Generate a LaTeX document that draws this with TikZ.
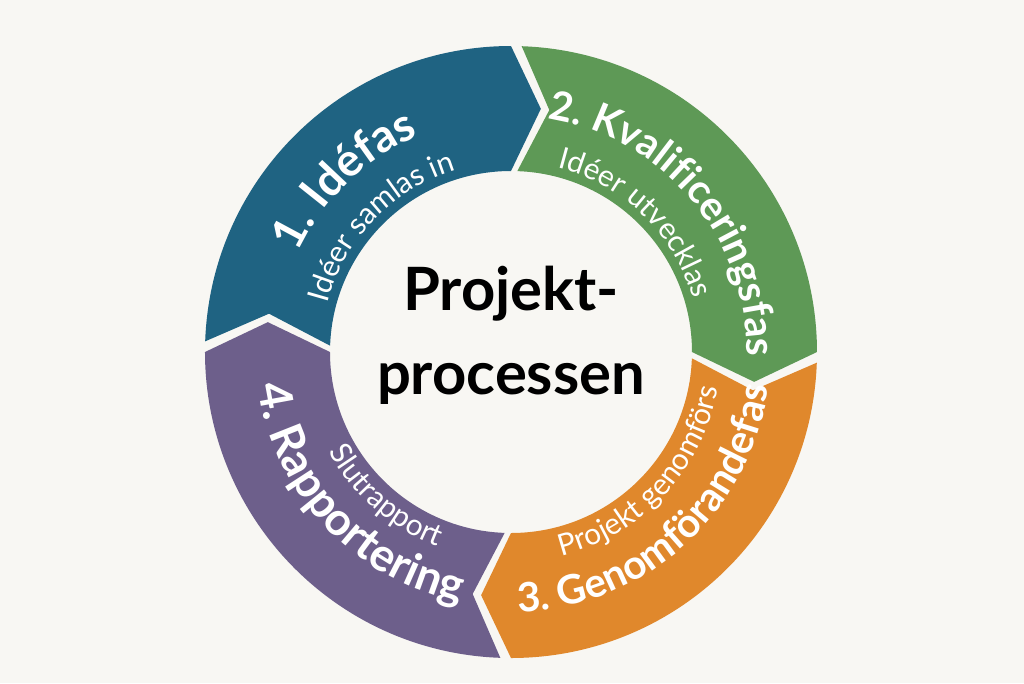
\documentclass[tikz,border=0pt]{standalone}
\usepackage{fontspec}
\setmainfont{Lato}
\usetikzlibrary{decorations.text}
\definecolor{bgc}{HTML}{F8F7F3}
\definecolor{cblue}{HTML}{1F6382}
\definecolor{cgreen}{HTML}{5E9956}
\definecolor{corange}{HTML}{E0882C}
\definecolor{cpurple}{HTML}{6D5F8B}
\tikzset{
  ttl/.style={decorate,decoration={text along path,text align=center,text={|\color{white}\fontsize{13}{15}\selectfont\bfseries|#1}}},
  ttls/.style={decorate,decoration={text along path,text align=center,text={|\color{white}\fontsize{11.5}{14}\selectfont\bfseries|#1}}},
  sub/.style={decorate,decoration={text along path,text align=center,text={|\color{white}\fontsize{8.5}{10}\selectfont|#1}}}
}
\begin{document}
\begin{tikzpicture}
\fill[bgc] (-5.11,-3.31) rectangle (5.13,3.52);
\useasboundingbox (-5.11,-3.31) rectangle (5.13,3.52);
\def\R{3.06}\def\r{1.81}\def\m{2.45}
\foreach \s/\e/\c in {178/90/cblue,88/0/cgreen,-2/-90/corange,-92/-180/cpurple}{
  \fill[\c] (\s:\R) arc[start angle=\s,end angle=\e,radius=\R] -- (\e-7:\m) -- (\e:\r)
    arc[start angle=\e,end angle=\s,radius=\r] -- (\s-7:\m) -- cycle;
}
% blue (centre 134)
\path[ttl={1. Idéfas}] (209:2.35) arc[start angle=209,end angle=59,radius=2.35];
\path[sub={Idéer samlas in}] (211:1.9) arc[start angle=211,end angle=61,radius=1.9];
% green (centre 40)
\path[ttls={2. Kvalificeringsfas}] (115:2.36) arc[start angle=115,end angle=-35,radius=2.36];
\path[sub={Idéer utvecklas}] (121:1.9) arc[start angle=121,end angle=-29,radius=1.9];
% orange (centre -48)
\path[ttls={3. Genomförandefas}] (-123:2.6) arc[start angle=-123,end angle=27,radius=2.6];
\path[sub={Projekt genomförs}] (-118:2.1) arc[start angle=-118,end angle=32,radius=2.1];
% purple (centre -137)
\path[ttl={4. Rapportering}] (-212:2.55) arc[start angle=-212,end angle=-62,radius=2.55];
\path[sub={Slutrapport}] (-206:2.08) arc[start angle=-206,end angle=-56,radius=2.08];
\node[align=center,font=\fontsize{17}{24}\selectfont\bfseries,text=black] (center) at (0,0.17) {Projekt-\\processen};
\end{tikzpicture}
\end{document}
